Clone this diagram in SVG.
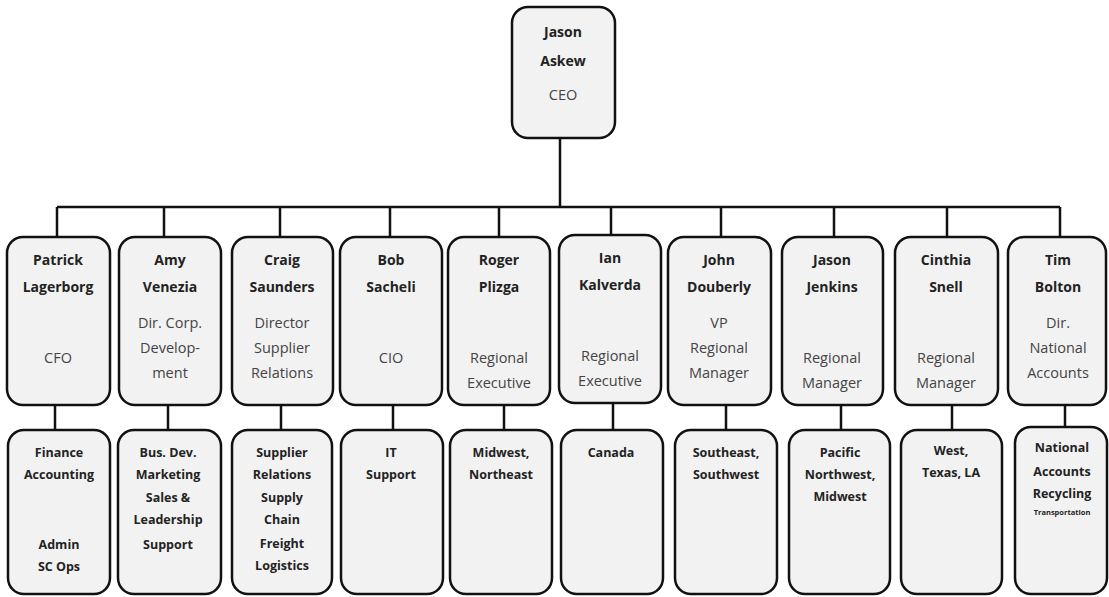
<svg xmlns="http://www.w3.org/2000/svg" width="1109" height="597" viewBox="0 0 1109 597">
<style>
.box{fill:#f2f2f2;stroke:#111;stroke-width:2.5}
.ln{stroke:#111;stroke-width:2.5;fill:none}
text{font-family:"Open Sans","Noto Sans",sans-serif;text-anchor:middle}
.nm{font-weight:bold;font-size:14px;fill:#222}
.tt{font-size:14.5px;fill:#444}
.sb{font-weight:bold;font-size:12.5px;fill:#222}
.tiny{font-weight:bold;font-size:7.5px;fill:#222}
</style>
<rect width="1109" height="597" fill="#fff"/>
<g id="connectors">
<path class="ln" d="M560 138V207M57 207H1060"/>
<path class="ln" d="M57 207V237M164 207V237M280 207V237M390 207V237M499 207V237M611 207V235M721 207V237M834 207V237M947 207V237M1060 207V237"/>
<path class="ln" d="M55 405V430M168 405V430M281 405V430M393 405V430M504 405V430M613 403V430M726 405V430M841 405V430M952 405V430M1065 405V427"/>
</g>
<g id="ceo"><rect class="box" x="512" y="7" width="103" height="131" rx="16"/>
<text class="nm" x="563" y="37">Jason</text><text class="nm" x="563" y="66">Askew</text><text class="tt" x="563" y="100">CEO</text></g>

<g id="n1"><rect class="box" x="7" y="237" width="103" height="168" rx="16"/>
<text class="nm" x="58" y="265">Patrick</text><text class="nm" x="58" y="292">Lagerborg</text><text class="tt" x="58" y="363">CFO</text></g>
<g id="n2"><rect class="box" x="119" y="237" width="102" height="168" rx="16"/>
<text class="nm" x="170" y="265">Amy</text><text class="nm" x="170" y="292">Venezia</text><text class="tt" x="170" y="328">Dir. Corp.</text><text class="tt" x="170" y="353">Develop-</text><text class="tt" x="170" y="378">ment</text></g>
<g id="n3"><rect class="box" x="232" y="237" width="101" height="168" rx="16"/>
<text class="nm" x="282" y="265">Craig</text><text class="nm" x="282" y="292">Saunders</text><text class="tt" x="282" y="328">Director</text><text class="tt" x="282" y="353">Supplier</text><text class="tt" x="282" y="378">Relations</text></g>
<g id="n4"><rect class="box" x="340" y="237" width="102" height="168" rx="16"/>
<text class="nm" x="391" y="265">Bob</text><text class="nm" x="391" y="292">Sacheli</text><text class="tt" x="391" y="363">CIO</text></g>
<g id="n5"><rect class="box" x="448" y="237" width="102" height="168" rx="16"/>
<text class="nm" x="499" y="265">Roger</text><text class="nm" x="499" y="292">Plizga</text><text class="tt" x="499" y="363">Regional</text><text class="tt" x="499" y="388">Executive</text></g>
<g id="n6"><rect class="box" x="559" y="235" width="102" height="168" rx="16"/>
<text class="nm" x="610" y="263">Ian</text><text class="nm" x="610" y="290">Kalverda</text><text class="tt" x="610" y="361">Regional</text><text class="tt" x="610" y="386">Executive</text></g>
<g id="n7"><rect class="box" x="668" y="237" width="103" height="168" rx="16"/>
<text class="nm" x="719" y="265">John</text><text class="nm" x="719" y="292">Douberly</text><text class="tt" x="719" y="328">VP</text><text class="tt" x="719" y="353">Regional</text><text class="tt" x="719" y="378">Manager</text></g>
<g id="n8"><rect class="box" x="782" y="237" width="101" height="168" rx="16"/>
<text class="nm" x="832" y="265">Jason</text><text class="nm" x="832" y="292">Jenkins</text><text class="tt" x="832" y="363">Regional</text><text class="tt" x="832" y="388">Manager</text></g>
<g id="n9"><rect class="box" x="895" y="237" width="103" height="168" rx="16"/>
<text class="nm" x="946" y="265">Cinthia</text><text class="nm" x="946" y="292">Snell</text><text class="tt" x="946" y="363">Regional</text><text class="tt" x="946" y="388">Manager</text></g>
<g id="n10"><rect class="box" x="1008" y="237" width="98" height="168" rx="16"/>
<text class="nm" x="1058" y="265">Tim</text><text class="nm" x="1058" y="292">Bolton</text><text class="tt" x="1058" y="328">Dir.</text><text class="tt" x="1058" y="353">National</text><text class="tt" x="1058" y="378">Accounts</text></g>

<g id="s1"><rect class="box" x="8" y="430" width="102" height="164" rx="16"/>
<text class="sb" x="59" y="457">Finance</text><text class="sb" x="59" y="479">Accounting</text><text class="sb" x="59" y="549">Admin</text><text class="sb" x="59" y="571">SC Ops</text></g>
<g id="s2"><rect class="box" x="118" y="430" width="103" height="164" rx="16"/>
<text class="sb" x="168" y="457">Bus. Dev.</text><text class="sb" x="168" y="479">Marketing</text><text class="sb" x="168" y="502">Sales &amp;</text><text class="sb" x="168" y="524">Leadership</text><text class="sb" x="168" y="549">Support</text></g>
<g id="s3"><rect class="box" x="232" y="430" width="100" height="164" rx="16"/>
<text class="sb" x="282" y="457">Supplier</text><text class="sb" x="282" y="479">Relations</text><text class="sb" x="282" y="502">Supply</text><text class="sb" x="282" y="524">Chain</text><text class="sb" x="282" y="548">Freight</text><text class="sb" x="282" y="570">Logistics</text></g>
<g id="s4"><rect class="box" x="341" y="430" width="102" height="164" rx="16"/>
<text class="sb" x="391" y="457">IT</text><text class="sb" x="391" y="479">Support</text></g>
<g id="s5"><rect class="box" x="450" y="430" width="102" height="164" rx="16"/>
<text class="sb" x="501" y="457">Midwest,</text><text class="sb" x="501" y="479">Northeast</text></g>
<g id="s6"><rect class="box" x="561" y="430" width="102" height="164" rx="16"/>
<text class="sb" x="611" y="457">Canada</text></g>
<g id="s7"><rect class="box" x="675" y="430" width="102" height="164" rx="16"/>
<text class="sb" x="726" y="457">Southeast,</text><text class="sb" x="726" y="479">Southwest</text></g>
<g id="s8"><rect class="box" x="789" y="430" width="101" height="164" rx="16"/>
<text class="sb" x="840" y="457">Pacific</text><text class="sb" x="840" y="479">Northwest,</text><text class="sb" x="840" y="501">Midwest</text></g>
<g id="s9"><rect class="box" x="901" y="430" width="101" height="164" rx="16"/>
<text class="sb" x="951" y="455">West,</text><text class="sb" x="951" y="477">Texas, LA</text></g>
<g id="s10"><rect class="box" x="1015" y="427" width="92" height="167" rx="16"/>
<text class="sb" x="1062" y="452">National</text><text class="sb" x="1062" y="476">Accounts</text><text class="sb" x="1062" y="498">Recycling</text><text class="tiny" x="1062" y="515">Transportation</text></g>
</svg>
